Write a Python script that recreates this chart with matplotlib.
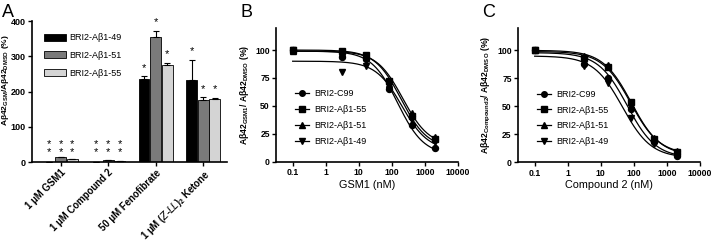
import numpy as np
import matplotlib
matplotlib.use("Agg")
import matplotlib.pyplot as plt
from matplotlib.patches import Patch
from matplotlib.lines import Line2D

plt.rcParams['font.family'] = ['Liberation Sans', 'DejaVu Sans']
plt.rcParams['mathtext.default'] = 'regular'

# panel A: bar data
treatments = ['1 μM GSM1', '1 μM Compound 2', '50 μM Fenofibrate',
              '1 μM ($\\it{Z}$-$\\it{LL}$)$_2$ Ketone']
bar_series = ['BRI2-Aβ1-49', 'BRI2-Aβ1-51', 'BRI2-Aβ1-55']
vals_149 = [1, 0.5, 235, 233]
vals_151 = [14, 6, 355, 177]
vals_155 = [8, 2, 274, 180]
err_149 = [0, 0, 8, 57]
err_151 = [1, 1, 17, 7]
err_155 = [1, 0.5, 8, 3]
stars = ['*\n*', '*\n*', '*', '*']
bar_colors = ['#000000', '#7a7a7a', '#d4d4d4']

# panels B, C: dose response
conc = [0.1, 3.2, 16, 80, 400, 2000]
curve_names = ['BRI2-C99', 'BRI2-Aβ1-55', 'BRI2-Aβ1-51', 'BRI2-Aβ1-49']
markers = ['o', 's', '^', 'v']

gsm1_c99 = [100, 94, 92, 65, 33, 12]
gsm1_155 = [100, 99, 96, 72, 41, 20]
gsm1_151 = [99, 97, 94, 70, 44, 22]
gsm1_149 = [100, 80, 86, 68, 38, 18]
# fitted 4PL params: top, bottom, IC50 (nM), hill
gsm1_fit = [[99, 6, 150, 1.1], [100, 12, 190, 1.1], [99, 14, 215, 1.1], [90, 10, 200, 1.1]]

cpd2_c99 = [100, 88, 75, 48, 18, 6]
cpd2_155 = [100, 93, 85, 54, 21, 9]
cpd2_151 = [100, 95, 87, 51, 22, 10]
cpd2_149 = [100, 86, 71, 40, 16, 7]
cpd2_fit = [[98, 4, 62, 1.0], [100, 6, 85, 1.0], [99, 7, 80, 1.0], [95, 4, 45, 1.0]]


def logistic(x, p):
    top, bottom, ic50, hill = p
    return bottom + (top - bottom) / (1 + (x / ic50) ** hill)


fig = plt.figure(figsize=(7.13, 2.43), dpi=100)

# ---- A ----
ax = fig.add_axes([0.0449, 0.3333, 0.2735, 0.5802])
x = np.arange(len(treatments))
w = 0.245
for k, (vals, errs) in enumerate([(vals_149, err_149), (vals_151, err_151), (vals_155, err_155)]):
    pos = x + (k - 1) * w
    ax.bar(pos, vals, w * 0.93, color=bar_colors[k], edgecolor='black', linewidth=0.6,
           label=bar_series[k], zorder=2)
    ax.errorbar(pos, vals, yerr=[np.zeros(len(errs)), errs], fmt='none', ecolor='black',
                elinewidth=0.8, capsize=2, capthick=0.8, zorder=3)
    for i in range(len(vals)):
        if stars[i] == '*':
            ax.text(pos[i], vals[i] + errs[i] + 10, '*', ha='center', va='bottom', fontsize=8)
        else:
            ax.text(pos[i], 14, '*\n*', ha='center', va='bottom', fontsize=8, linespacing=0.75)
ax.set_xlim(-0.6, 3.5)
ax.set_ylim(0, 400)
ax.set_yticks([0, 100, 200, 300, 400])
ax.set_xticks(x)
ax.set_xticklabels(treatments, rotation=45, ha='right', rotation_mode='anchor',
                   fontsize=6.9, fontweight='bold')
for t in ax.get_yticklabels():
    t.set_fontweight('bold')
ax.tick_params(axis='y', labelsize=6.5, length=3, width=1, pad=1.5)
ax.tick_params(axis='x', labelsize=6.9, length=3, width=1, pad=1)
for s in ['top', 'right']:
    ax.spines[s].set_visible(False)
for s in ['left', 'bottom']:
    ax.spines[s].set_linewidth(1.2)
ax.set_ylabel('Aβ42$_{GSM}$/Aβ42$_{DMSO}$ (%)', fontsize=6, fontweight='bold')
ax.yaxis.set_label_coords(-0.108, 0.58)
handles = [Patch(facecolor=c, edgecolor='black', linewidth=0.6) for c in bar_colors]
ax.legend(handles, bar_series, loc='upper left', bbox_to_anchor=(0.02, 0.97), frameon=False,
          fontsize=6.5, handlelength=2.4, handleheight=0.8, labelspacing=0.95, handletextpad=0.4)
fig.text(0.003, 0.985, 'A', fontsize=13, va='top')


def dose_panel(rect, series, fits, xlabel, ylabel, letter, lx):
    ax = fig.add_axes(rect)
    xs = np.logspace(-1, np.log10(2000), 200)
    for vals, p, m, name in zip(series, fits, markers, curve_names):
        ax.plot(xs, logistic(xs, p), color='black', linewidth=0.9)
        ax.plot(conc, vals, linestyle='none', marker=m, color='black', markersize=4.3)
    ax.set_xscale('log')
    ax.set_xlim(10 ** -1.504, 10 ** 4)
    ax.set_ylim(0, 120)
    ax.set_yticks([0, 25, 50, 75, 100])
    ax.set_xticks([0.1, 1, 10, 100, 1000, 10000])
    ax.set_xticklabels(['0.1', '1', '10', '100', '1000', '10000'])
    ax.minorticks_off()
    ax.tick_params(axis='both', labelsize=6.2, length=3, width=1, pad=1.5)
    for t in ax.get_xticklabels() + ax.get_yticklabels():
        t.set_fontweight('bold')
    for s in ['top', 'right']:
        ax.spines[s].set_visible(False)
    for s in ['left', 'bottom']:
        ax.spines[s].set_linewidth(1.2)
    ax.set_xlabel(xlabel, fontsize=7.8, labelpad=2)
    ax.set_ylabel(ylabel, fontsize=6.2, fontweight='bold', labelpad=3)
    handles = [Line2D([], [], color='black', marker=m, markersize=4, linewidth=0.9) for m in markers]
    ax.legend(handles, curve_names, loc='upper left', bbox_to_anchor=(0.06, 0.6), frameon=False,
              fontsize=6.5, handlelength=1.5, labelspacing=0.75, handletextpad=0.6)
    fig.text(lx, 0.985, letter, fontsize=13, va='top')
    return ax


dose_panel([0.3871, 0.3346, 0.2553, 0.5514], [gsm1_c99, gsm1_155, gsm1_151, gsm1_149], gsm1_fit,
           'GSM1 (nM)', 'Aβ42$_{GSM1}$/ Aβ42$_{DMSO}$ (%)', 'B', 0.337)
dose_panel([0.7265, 0.3321, 0.2553, 0.5527], [cpd2_c99, cpd2_155, cpd2_151, cpd2_149], cpd2_fit,
           'Compound 2 (nM)', 'Aβ42$_{Compound2}$/ Aβ42$_{DMSO}$ (%)', 'C', 0.676)

fig.savefig('out.png', dpi=100)
